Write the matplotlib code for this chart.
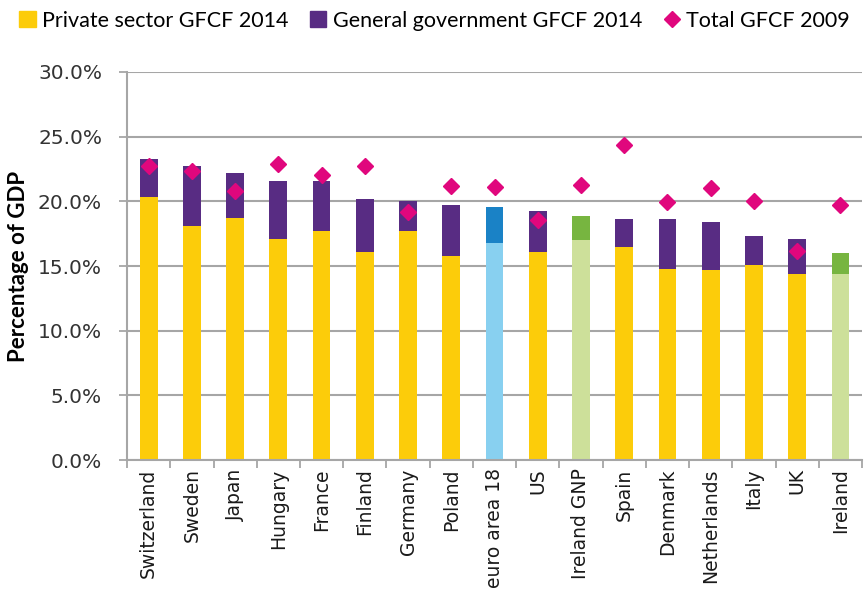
import matplotlib
matplotlib.use('Agg')
import matplotlib.pyplot as plt
from matplotlib.patches import Patch
from matplotlib.lines import Line2D
from matplotlib.ticker import FuncFormatter, FixedLocator
import numpy as np

countries = ["Switzerland", "Sweden", "Japan", "Hungary", "France", "Finland",
             "Germany", "Poland", "euro area 18", "US", "Ireland GNP", "Spain",
             "Denmark", "Netherlands", "Italy", "UK", "Ireland"]
private_2014 = [20.3, 18.1, 18.7, 17.1, 17.7, 16.1, 17.7, 15.8, 16.8, 16.1,
                17.0, 16.5, 14.8, 14.7, 15.1, 14.4, 14.4]
total_2014 = [23.3, 22.7, 22.2, 21.6, 21.6, 20.2, 20.0, 19.7, 19.55, 19.25,
              18.85, 18.65, 18.65, 18.4, 17.3, 17.1, 16.0]
total_2009 = [22.7, 22.35, 20.8, 22.9, 22.05, 22.75, 19.15, 21.15, 21.1, 18.55,
              21.25, 24.35, 19.95, 21.0, 20.0, 16.15, 19.7]

government_2014 = [t - p for t, p in zip(total_2014, private_2014)]

# colours per bar: euro area in blue, Ireland in green
low_col, high_col = [], []
for c in countries:
    if c.startswith("euro"):
        low_col.append("#88D0F0"); high_col.append("#1A82C6")
    elif c.startswith("Ireland"):
        low_col.append("#CDE09A"); high_col.append("#77B540")
    else:
        low_col.append("#FCCC0A"); high_col.append("#582C83")

fig = plt.figure(figsize=(8.66, 6.03), dpi=100)
ax = fig.add_axes([0.1467, 0.2371, 0.8487, 0.6435])

x = np.arange(len(countries))
ax.bar(x, private_2014, width=0.41, color=low_col, zorder=2)
ax.bar(x, government_2014, bottom=private_2014, width=0.41, color=high_col, zorder=2)
ax.plot(x, total_2009, linestyle="none", marker="D", markersize=8.5,
        color="#E0077D", zorder=3)

ax.set_xlim(-0.5, len(countries) - 0.5)
ax.set_ylim(0, 30)
ax.set_yticks(np.arange(0, 31, 5))
ax.yaxis.set_major_formatter(FuncFormatter(lambda v, p: f"{v:.1f}%"))
ax.grid(axis="y", color="#A6A6A6", linewidth=1.5, zorder=0)
ax.set_axisbelow(True)

ax.set_xticks(x)
ax.set_xticklabels(countries, rotation=90, fontsize=13.5, family="DejaVu Sans",
                   color="#1a1a1a")
ax.tick_params(axis="x", which="major", length=0, pad=6)
ax.xaxis.set_minor_locator(FixedLocator(np.arange(-0.5, len(countries), 1)))
ax.tick_params(axis="x", which="minor", length=6, color="#A6A6A6", width=1.3)
ax.tick_params(axis="y", length=6, color="#A6A6A6", width=1.3, labelsize=14.5,
               labelcolor="#333333", pad=12)

for s in ["top", "right"]:
    ax.spines[s].set_visible(False)
for s in ["left", "bottom"]:
    ax.spines[s].set_color("#A6A6A6")
    ax.spines[s].set_linewidth(1.5)

ax.set_ylabel("Percentage of GDP", fontsize=16, fontweight="bold", family="Lato")
ax.yaxis.set_label_coords(-0.133, 0.5)

handles = [Patch(color="#FCCC0A"), Patch(color="#582C83"),
           Line2D([], [], linestyle="none", marker="D", markersize=8.5, color="#E0077D")]
labels = ["Private sector GFCF 2014", "General government GFCF 2014", "Total GFCF 2009"]
fig.legend(handles, labels, loc="center left", bbox_to_anchor=(0.0, 0.966), ncol=3,
           frameon=False, prop={"family": "Lato", "size": 15.5},
           handlelength=0.75, handleheight=0.75, handletextpad=0.3, columnspacing=1.0)

plt.savefig("out.png", dpi=100)
